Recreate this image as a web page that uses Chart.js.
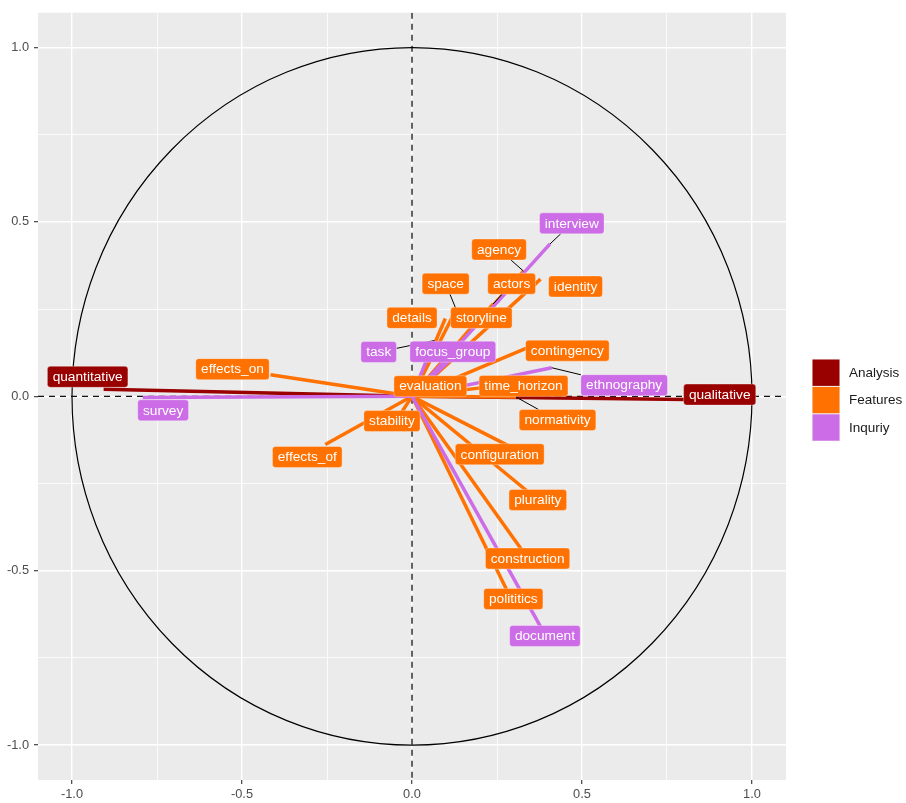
<!DOCTYPE html>
<html><head><meta charset="utf-8">
<script src="https://cdn.jsdelivr.net/npm/chart.js@4.4.1/dist/chart.umd.min.js"></script>
<style>html,body{margin:0;padding:0;background:#fff;}canvas{display:block;}</style>
</head><body>
<canvas id="c" width="906" height="803"></canvas>
<script>
// ---- data ----
const variables = ['quantitative','qualitative',
  'effects_on','effects_of','stability','evaluation','details','space','storyline','actors','agency','identity','contingency','time_horizon','normativity','configuration','plurality','construction','polititics',
  'survey','interview','ethnography','focus_group','task','document'];
const groups = ['Analysis','Analysis',
  'Features','Features','Features','Features','Features','Features','Features','Features','Features','Features','Features','Features','Features','Features','Features','Features','Features',
  'Inquriy','Inquriy','Inquriy','Inquriy','Inquriy','Inquriy'];
const dim1 = [-0.907, 0.870,
  -0.416, -0.255, -0.030, 0.040, 0.098, 0.130, 0.190, 0.239, 0.328, 0.378, 0.377, 0.250, 0.306, 0.300, 0.368, 0.341, 0.292,
  -0.792, 0.406, 0.411, 0.150, 0.066, 0.394];
const dim2 = [0.020, -0.010,
  0.062, -0.138, -0.045, 0.025, 0.223, 0.249, 0.215, 0.265, 0.359, 0.336, 0.155, 0.030, -0.002, -0.150, -0.295, -0.465, -0.582,
  -0.003, 0.437, 0.082, 0.140, 0.160, -0.688];
const groupNames = ['Analysis','Features','Inquriy'];
const tickValues = [-1, -0.75, -0.5, -0.25, 0, 0.25, 0.5, 0.75, 1];

// ---- layout / style (repelled label centres, in axis units) ----
const labelX = [-0.954, 0.905,
  -0.528, -0.308, -0.059, 0.054, 0.000, 0.099, 0.204, 0.293, 0.256, 0.481, 0.457, 0.328, 0.428, 0.258, 0.370, 0.340, 0.298,
  -0.732, 0.470, 0.624, 0.120, -0.098, 0.391];
const labelY = [0.056, 0.005,
  0.078, -0.174, -0.071, 0.029, 0.225, 0.323, 0.225, 0.323, 0.421, 0.315, 0.131, 0.030, -0.068, -0.166, -0.297, -0.465, -0.581,
  -0.040, 0.496, 0.032, 0.128, 0.127, -0.687];
const colors = {Analysis:'#990000', Features:'#FF7100', Inquriy:'#CC6CE6'};
const drawOrder = {Analysis:2, Features:1, Inquriy:0};

const datasets = variables.map((v,i)=>({
  label: v,
  data: [{x:0,y:0},{x:dim1[i],y:dim2[i]}],
  showLine: true,
  borderColor: colors[groups[i]],
  backgroundColor: colors[groups[i]],
  borderWidth: 3.5,
  borderCapStyle: 'butt',
  pointRadius: 0,
  pointHoverRadius: 0,
  order: drawOrder[groups[i]]
}));

const isMajor = v => Math.abs(v*2 - Math.round(v*2)) < 1e-9;

const bgPlugin = {
  id:'bg',
  beforeDraw(chart){
    const {ctx, chartArea:a} = chart;
    ctx.save();
    ctx.fillStyle = '#ffffff';
    ctx.fillRect(0,0,chart.width,chart.height);
    ctx.fillStyle = '#EBEBEB';
    ctx.fillRect(a.left, a.top, a.right-a.left, a.bottom-a.top);
    ctx.restore();
  }
};

const refPlugin = {
  id:'ref',
  beforeDatasetsDraw(chart){
    const {ctx, chartArea:a, scales:{x,y}} = chart;
    ctx.save();
    ctx.beginPath(); ctx.rect(a.left,a.top,a.right-a.left,a.bottom-a.top); ctx.clip();
    const cx = x.getPixelForValue(0), cy = y.getPixelForValue(0);
    ctx.strokeStyle = '#111'; ctx.lineWidth = 1.3;
    ctx.setLineDash([6,5]);
    ctx.beginPath(); ctx.moveTo(cx, a.top); ctx.lineTo(cx, a.bottom); ctx.stroke();
    ctx.beginPath(); ctx.moveTo(a.left, cy); ctx.lineTo(a.right, cy); ctx.stroke();
    ctx.setLineDash([]);
    const rx = x.getPixelForValue(1) - cx, ry = cy - y.getPixelForValue(1);
    ctx.strokeStyle = '#000'; ctx.lineWidth = 1.2;
    ctx.beginPath(); ctx.ellipse(cx, cy, rx, ry, 0, 0, Math.PI*2); ctx.stroke();
    ctx.restore();
  }
};

function roundRect(ctx, x, y, w, h, r){
  ctx.beginPath();
  ctx.moveTo(x+r,y); ctx.lineTo(x+w-r,y); ctx.quadraticCurveTo(x+w,y,x+w,y+r);
  ctx.lineTo(x+w,y+h-r); ctx.quadraticCurveTo(x+w,y+h,x+w-r,y+h);
  ctx.lineTo(x+r,y+h); ctx.quadraticCurveTo(x,y+h,x,y+h-r);
  ctx.lineTo(x,y+r); ctx.quadraticCurveTo(x,y,x+r,y); ctx.closePath();
}

const labelPlugin = {
  id:'labels',
  afterDatasetsDraw(chart){
    const {ctx, scales:{x,y}} = chart;
    ctx.save();
    ctx.font = '13.7px "Liberation Sans", Arial, sans-serif';
    const boxes = variables.map((v,i)=>{
      const w = ctx.measureText(v).width + 10.5, h = 21;
      const cx = x.getPixelForValue(labelX[i]), cy = y.getPixelForValue(labelY[i]);
      return {cx, cy, w, h, l:cx-w/2, r:cx+w/2, t:cy-h/2, b:cy+h/2};
    });
    // leader segments
    ctx.strokeStyle = '#000'; ctx.lineWidth = 1;
    variables.forEach((v,i)=>{
      const B = boxes[i];
      const px = x.getPixelForValue(dim1[i]), py = y.getPixelForValue(dim2[i]);
      const dx = Math.max(B.l - px, 0, px - B.r), dy = Math.max(B.t - py, 0, py - B.b);
      if (Math.hypot(dx,dy) < 9) return;
      const vx = px - B.cx, vy = py - B.cy;
      const tx = vx !== 0 ? (B.w/2)/Math.abs(vx) : Infinity;
      const ty = vy !== 0 ? (B.h/2)/Math.abs(vy) : Infinity;
      const t = Math.min(tx, ty);
      ctx.beginPath(); ctx.moveTo(B.cx + vx*t, B.cy + vy*t); ctx.lineTo(px, py); ctx.stroke();
    });
    // labels
    ctx.textAlign = 'center'; ctx.textBaseline = 'middle';
    variables.forEach((v,i)=>{
      const B = boxes[i];
      roundRect(ctx, B.l, B.t, B.w, B.h, 3);
      ctx.fillStyle = colors[groups[i]]; ctx.fill();
      ctx.strokeStyle = 'rgba(255,255,255,0.55)'; ctx.lineWidth = 0.6; ctx.stroke();
      ctx.fillStyle = '#ffffff';
      ctx.fillText(v, B.cx, B.cy + 0.5);
    });
    ctx.restore();
  }
};

const legendPlugin = {
  id:'customLegend',
  afterDraw(chart){
    const {ctx} = chart;
    ctx.save();
    const kx = 812, ky = 359, kw = 28, kh = 27.4;
    ctx.font = '13.5px "Liberation Sans", Arial, sans-serif';
    ctx.textAlign = 'left'; ctx.textBaseline = 'middle';
    groupNames.forEach((g,i)=>{
      const top = ky + i*kh;
      ctx.fillStyle = '#F2F2F2';
      ctx.fillRect(kx, top, kw, kh);
      ctx.fillStyle = colors[g];
      ctx.fillRect(kx+0.5, top+0.5, kw-1, kh-1);
      ctx.fillStyle = '#1a1a1a';
      ctx.fillText(g, 849, top + kh/2 + 0.5);
    });
    ctx.restore();
  }
};

const axisCommon = (afterFit) => ({
  type:'linear', min:-1.1, max:1.1,
  afterBuildTicks: s => { s.ticks = tickValues.map(v=>({value:v})); },
  afterFit,
  border:{display:false},
  grid:{
    color:'#ffffff',
    lineWidth: c => (c.tick && isMajor(c.tick.value)) ? 1.4 : 0.8,
    tickColor: c => (c.tick && isMajor(c.tick.value)) ? '#333333' : 'rgba(0,0,0,0)',
    tickLength: 4,
    tickWidth: 1.1,
    drawTicks: true
  },
  ticks:{
    autoSkip:false, maxRotation:0, minRotation:0,
    color:'#4D4D4D',
    font:{family:'"Liberation Sans", Arial, sans-serif', size:12.8},
    callback: v => isMajor(v) ? Number(v).toFixed(1) : ''
  }
});

const xAxis = axisCommon(s => { s.height = 23; });
xAxis.ticks.padding = 3;
const yAxis = axisCommon(s => { s.width = 38; });
yAxis.ticks.padding = 5;

new Chart(document.getElementById('c').getContext('2d'), {
  type:'scatter',
  data:{datasets},
  options:{
    responsive:false, animation:false, devicePixelRatio:1,
    layout:{padding:{top:12, right:120, left:0, bottom:0}},
    plugins:{legend:{display:false}, tooltip:{enabled:false}},
    events:[],
    scales:{x:xAxis, y:yAxis}
  },
  plugins:[bgPlugin, refPlugin, labelPlugin, legendPlugin]
});
</script>
</body></html>
